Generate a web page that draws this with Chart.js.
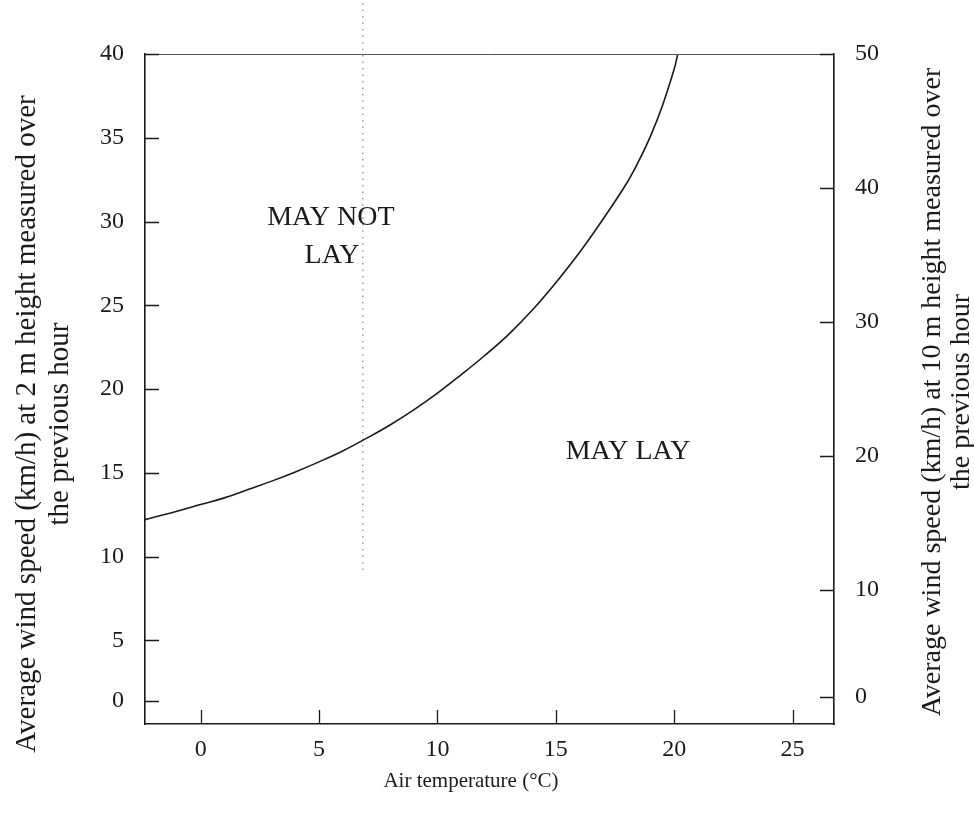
<!DOCTYPE html>
<html>
<head>
<meta charset="utf-8">
<script src="https://cdn.jsdelivr.net/npm/chart.js@4/dist/chart.umd.min.js"></script>
<style>
  body { margin: 0; background: #fff; }
  #wrap { width: 974px; height: 818px; }
</style>
</head>
<body>
<div id="wrap"><canvas id="layChart" width="974" height="818"></canvas></div>
<script>
// air temperature (°C)
const temps = [-2.35, -1, 0, 1, 2, 3, 4, 5, 6, 7, 8, 9, 10, 11, 12, 13, 14, 15, 16, 17, 18, 18.5, 19, 19.5, 20, 20.15];
// wind speed at 2 m (km/h) for each temperature
const windSpeeds = [12.2, 12.7, 13.1, 13.5, 14.0, 14.5, 15.05, 15.65, 16.3, 17.05, 17.85, 18.75, 19.75, 20.85, 22.0, 23.25, 24.7, 26.35, 28.15, 30.15, 32.3, 33.6, 35.1, 36.9, 39.1, 40.0];

// dotted reference line (temperature, from / to wind speed)
const refLineTemp = 6.85;
const refLineSpeeds = [9.2, 43.3];

const xTickValues = [0, 5, 10, 15, 20, 25];
// the printed "0" on both wind axes sits a little above the true zero
const leftTickValues = [1.4, 5, 10, 15, 20, 25, 30, 35, 40];
const leftTickLabels = ['0', '5', '10', '15', '20', '25', '30', '35', '40'];
const rightTickValues = [2.0, 10, 20, 30, 40, 50];
const rightTickLabels = ['0', '10', '20', '30', '40', '50'];

const regionLabels = ['MAY NOT', 'LAY', 'MAY LAY'];
const xTitle = 'Air temperature (°C)';
const leftTitle = ['Average wind speed (km/h) at 2 m height measured over', 'the previous hour'];
const rightTitle = ['Average wind speed (km/h) at 10 m height measured over', 'the previous hour'];

const serif = '"Liberation Serif", "DejaVu Serif", serif';
const ink = '#1a1a1a';

const extras = {
  id: 'extras',
  afterDraw(chart) {
    const { ctx, chartArea, scales } = chart;
    const { left, right, top, bottom } = chartArea;
    ctx.save();

    // top frame line
    ctx.strokeStyle = '#555';
    ctx.lineWidth = 1;
    ctx.beginPath();
    ctx.moveTo(left, top + 0.5);
    ctx.lineTo(right, top + 0.5);
    ctx.stroke();

    // tick marks pointing into the plot
    ctx.strokeStyle = ink;
    ctx.lineWidth = 1.3;
    ctx.beginPath();
    xTickValues.forEach(v => {
      const px = Math.round(scales.x.getPixelForValue(v)) + 0.5;
      ctx.moveTo(px, bottom);
      ctx.lineTo(px, bottom - 14);
    });
    leftTickValues.forEach(v => {
      const py = Math.round(scales.y.getPixelForValue(v)) + 0.5;
      ctx.moveTo(left, py);
      ctx.lineTo(left + 14, py);
    });
    rightTickValues.forEach(v => {
      const py = Math.round(scales.y2.getPixelForValue(v)) + 0.5;
      ctx.moveTo(right, py);
      ctx.lineTo(right - 14, py);
    });
    ctx.stroke();

    // region labels
    ctx.fillStyle = ink;
    ctx.font = '28px ' + serif;
    ctx.textAlign = 'center';
    ctx.textBaseline = 'alphabetic';
    ctx.fillText(regionLabels[0], scales.x.getPixelForValue(5.5), scales.y.getPixelForValue(29.8));
    ctx.fillText(regionLabels[1], scales.x.getPixelForValue(5.55), scales.y.getPixelForValue(27.5));
    ctx.fillText(regionLabels[2], scales.x.getPixelForValue(18.05), scales.y.getPixelForValue(15.85));

    // x axis title
    ctx.font = '21px ' + serif;
    ctx.textBaseline = 'middle';
    ctx.fillText(xTitle, 471, 781);

    // rotated axis titles
    const rotated = (lines, xs, cy) => {
      lines.forEach((t, i) => {
        ctx.save();
        ctx.translate(xs[i], cy);
        ctx.rotate(-Math.PI / 2);
        ctx.fillText(t, 0, 0);
        ctx.restore();
      });
    };
    ctx.font = '29px ' + serif;
    rotated(leftTitle, [27, 60], 424);
    ctx.font = '28px ' + serif;
    rotated(rightTitle, [933, 962], 392);

    ctx.restore();
  }
};

const tickFont = { family: serif, size: 24 };

new Chart(document.getElementById('layChart'), {
  type: 'scatter',
  data: {
    datasets: [{
      data: temps.map((t, i) => ({ x: t, y: windSpeeds[i] })),
      yAxisID: 'y',
      showLine: true,
      borderColor: ink,
      borderWidth: 1.6,
      pointRadius: 0,
      tension: 0.4
    }, {
      data: refLineSpeeds.map(s => ({ x: refLineTemp, y: s })),
      yAxisID: 'y',
      showLine: true,
      borderColor: '#888',
      borderWidth: 1.2,
      borderDash: [1.5, 5],
      pointRadius: 0,
      clip: false
    }]
  },
  options: {
    responsive: false,
    animation: false,
    layout: { padding: { top: 54, left: 0, right: 0, bottom: 0 } },
    plugins: { legend: { display: false }, tooltip: { enabled: false } },
    scales: {
      x: {
        type: 'linear',
        position: 'bottom',
        min: -2.35,
        max: 26.75,
        afterBuildTicks: s => { s.ticks = xTickValues.map(v => ({ value: v })); },
        afterFit: s => { s.height = 94; },
        grid: { display: false },
        border: { display: true, color: ink, width: 1.6 },
        ticks: { font: tickFont, color: ink, padding: 3, autoSkip: false, maxRotation: 0 }
      },
      y: {
        type: 'linear',
        position: 'left',
        min: 0,
        max: 40,
        afterBuildTicks: s => { s.ticks = leftTickValues.map(v => ({ value: v })); },
        afterFit: s => { s.width = 145; },
        grid: { display: false },
        border: { display: true, color: ink, width: 1.6 },
        ticks: { font: tickFont, color: ink, padding: 13, autoSkip: false,
          callback: (v, i) => leftTickLabels[i] }
      },
      y2: {
        type: 'linear',
        position: 'right',
        min: 0,
        max: 50,
        afterBuildTicks: s => { s.ticks = rightTickValues.map(v => ({ value: v })); },
        afterFit: s => { s.width = 140; },
        grid: { display: false },
        border: { display: true, color: ink, width: 1.6 },
        ticks: { font: tickFont, color: ink, padding: 13, autoSkip: false,
          callback: (v, i) => rightTickLabels[i] }
      }
    }
  },
  plugins: [extras]
});
</script>
</body>
</html>
